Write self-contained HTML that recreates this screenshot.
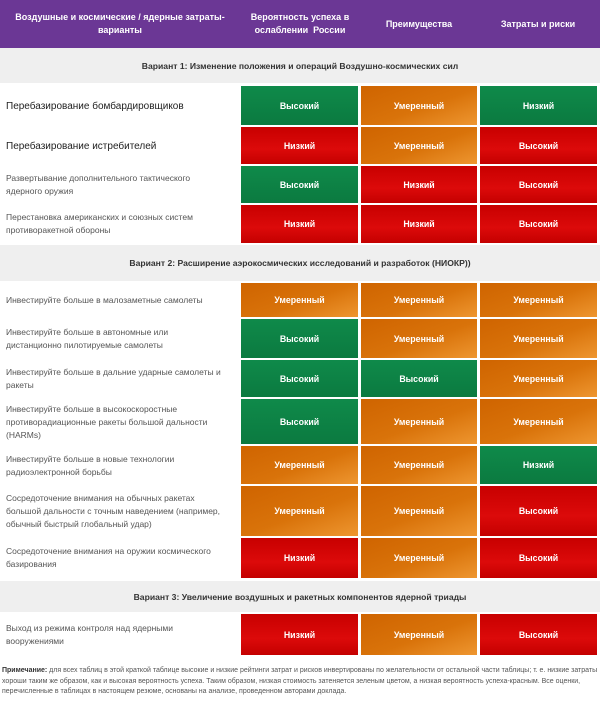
<!DOCTYPE html>
<html><head><meta charset="utf-8"><style>
*{margin:0;padding:0;box-sizing:border-box}
body{width:600px;height:702px;background:#fff;position:relative;overflow:hidden;font-family:"Liberation Sans","Noto Sans CJK SC",sans-serif}
.a{position:absolute}
.hd{background:#6b3795;left:0;top:0;width:600px;height:48px}
.ht{position:absolute;color:#fff;font-weight:bold;font-size:9px;text-align:center;line-height:13px;display:flex;align-items:center;justify-content:center;top:0;height:48px;white-space:nowrap}
.sec{position:absolute;left:0;width:600px;background:#efefef;font-size:8.6px;font-weight:bold;color:#333;text-align:center;display:flex;align-items:center;justify-content:center}
.lt{position:absolute;left:6px;width:232px;font-size:8.5px;color:#555;line-height:13px;display:flex;align-items:center;white-space:nowrap}
.big{font-size:10px;color:#222}
.c{position:absolute;color:#fff;font-weight:bold;font-size:8.8px;display:flex;align-items:center;justify-content:center}
.g{background:linear-gradient(180deg,#0f8a4a,#0b7a40)}
.o{background:linear-gradient(160deg,#cf6400 0%,#d9730a 55%,#ee9630 100%)}
.r{background:linear-gradient(180deg,#c80000,#dc0a0a 60%,#c40000)}
.note{position:absolute;left:2px;top:666px;width:596px;font-size:7px;line-height:10.5px;color:#555}
</style></head><body>
<div class="a hd"></div>
<div class="ht" style="left:0px;width:240px">Воздушные и космические / ядерные затраты-<br>варианты</div>
<div class="ht" style="left:240px;width:120px">Вероятность успеха в<br>ослаблении &nbsp;России</div>
<div class="ht" style="left:360px;width:118px">Преимущества</div>
<div class="ht" style="left:478px;width:120px">Затраты и риски</div>

<div class="sec" style="top:48px;height:35px">Вариант 1: Изменение положения и операций Воздушно-космических сил</div>
<div class="sec" style="top:245px;height:36px">Вариант 2: Расширение аэрокосмических исследований и разработок (НИОКР))</div>
<div class="sec" style="top:581px;height:31px">Вариант 3: Увеличение воздушных и ракетных компонентов ядерной триады</div>

<div class="lt big" style="top:86px;height:40px">Перебазирование бомбардировщиков</div>
<div class="lt big" style="top:127px;height:38px">Перебазирование истребителей</div>
<div class="lt" style="top:166px;height:38px">Развертывание дополнительного тактического<br>ядерного оружия</div>
<div class="lt" style="top:205px;height:38px">Перестановка американских и союзных систем<br>противоракетной обороны</div>
<div class="lt" style="top:283px;height:34px">Инвестируйте больше в малозаметные самолеты</div>
<div class="lt" style="top:318px;height:41px">Инвестируйте больше в автономные или<br>дистанционно пилотируемые самолеты</div>
<div class="lt" style="top:360px;height:38px">Инвестируйте больше в дальние ударные самолеты и<br>ракеты</div>
<div class="lt" style="top:399px;height:46px">Инвестируйте больше в высокоскоростные<br>противорадиационные ракеты большой дальности<br>(HARMs)</div>
<div class="lt" style="top:446px;height:39px">Инвестируйте больше в новые технологии<br>радиоэлектронной борьбы</div>
<div class="lt" style="top:486px;height:51px">Сосредоточение внимания на обычных ракетах<br>большой дальности с точным наведением (например,<br>обычный быстрый глобальный удар)</div>
<div class="lt" style="top:538px;height:40px">Сосредоточение внимания на оружии космического<br>базирования</div>
<div class="lt" style="top:614px;height:41px">Выход из режима контроля над ядерными<br>вооружениями</div>

<div class="c g" style="left:241px;top:86px;width:117px;height:39px">Высокий</div>
<div class="c o" style="left:361px;top:86px;width:116px;height:39px">Умеренный</div>
<div class="c g" style="left:480px;top:86px;width:117px;height:39px">Низкий</div>

<div class="c r" style="left:241px;top:127px;width:117px;height:37px">Низкий</div>
<div class="c o" style="left:361px;top:127px;width:116px;height:37px">Умеренный</div>
<div class="c r" style="left:480px;top:127px;width:117px;height:37px">Высокий</div>

<div class="c g" style="left:241px;top:166px;width:117px;height:37px">Высокий</div>
<div class="c r" style="left:361px;top:166px;width:116px;height:37px">Низкий</div>
<div class="c r" style="left:480px;top:166px;width:117px;height:37px">Высокий</div>

<div class="c r" style="left:241px;top:205px;width:117px;height:38px">Низкий</div>
<div class="c r" style="left:361px;top:205px;width:116px;height:38px">Низкий</div>
<div class="c r" style="left:480px;top:205px;width:117px;height:38px">Высокий</div>

<div class="c o" style="left:241px;top:283px;width:117px;height:34px">Умеренный</div>
<div class="c o" style="left:361px;top:283px;width:116px;height:34px">Умеренный</div>
<div class="c o" style="left:480px;top:283px;width:117px;height:34px">Умеренный</div>

<div class="c g" style="left:241px;top:319px;width:117px;height:39px">Высокий</div>
<div class="c o" style="left:361px;top:319px;width:116px;height:39px">Умеренный</div>
<div class="c o" style="left:480px;top:319px;width:117px;height:39px">Умеренный</div>

<div class="c g" style="left:241px;top:360px;width:117px;height:37px">Высокий</div>
<div class="c g" style="left:361px;top:360px;width:116px;height:37px">Высокий</div>
<div class="c o" style="left:480px;top:360px;width:117px;height:37px">Умеренный</div>

<div class="c g" style="left:241px;top:399px;width:117px;height:45px">Высокий</div>
<div class="c o" style="left:361px;top:399px;width:116px;height:45px">Умеренный</div>
<div class="c o" style="left:480px;top:399px;width:117px;height:45px">Умеренный</div>

<div class="c o" style="left:241px;top:446px;width:117px;height:38px">Умеренный</div>
<div class="c o" style="left:361px;top:446px;width:116px;height:38px">Умеренный</div>
<div class="c g" style="left:480px;top:446px;width:117px;height:38px">Низкий</div>

<div class="c o" style="left:241px;top:486px;width:117px;height:50px">Умеренный</div>
<div class="c o" style="left:361px;top:486px;width:116px;height:50px">Умеренный</div>
<div class="c r" style="left:480px;top:486px;width:117px;height:50px">Высокий</div>

<div class="c r" style="left:241px;top:538px;width:117px;height:40px">Низкий</div>
<div class="c o" style="left:361px;top:538px;width:116px;height:40px">Умеренный</div>
<div class="c r" style="left:480px;top:538px;width:117px;height:40px">Высокий</div>

<div class="c r" style="left:241px;top:614px;width:117px;height:41px">Низкий</div>
<div class="c o" style="left:361px;top:614px;width:116px;height:41px">Умеренный</div>
<div class="c r" style="left:480px;top:614px;width:117px;height:41px">Высокий</div>

<div class="note"><b style="color:#333">Примечание:</b> для всех таблиц в этой краткой таблице высокие и низкие рейтинги затрат и рисков инвертированы по желательности от остальной части таблицы; т. е. низкие затраты хороши таким же образом, как и высокая вероятность успеха. Таким образом, низкая стоимость затеняется зеленым цветом, а низкая вероятность успеха-красным. Все оценки, перечисленные в таблицах в настоящем резюме, основаны на анализе, проведенном авторами доклада.</div>
</body></html>
